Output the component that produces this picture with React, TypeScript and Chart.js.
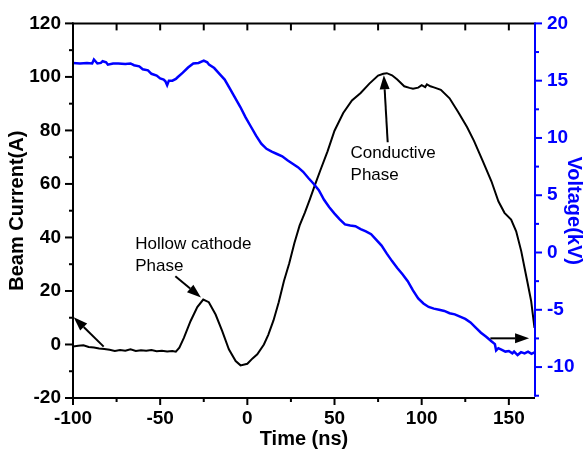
import React, { useEffect, useRef } from 'react';
import { Chart, registerables } from 'chart.js';

Chart.register(...registerables);

// Beam current (A) vs time (ns)
const TIME_I = [-100, -97, -94, -91, -88, -85, -82, -79, -76, -73, -70, -67, -64, -61, -58, -55, -52, -49, -46, -43, -41, -39, -36.4, -32.6, -28.7, -25.3, -22.1, -18.2, -14.4, -10.6, -6.7, -3.9, 0, 3, 5.7, 9.5, 12, 15, 18, 21, 24, 27, 30, 33, 36, 39, 42, 46, 50, 55, 60, 65, 70, 75, 78, 80, 83, 86, 90, 93, 95, 98, 100, 102, 103, 105, 107, 111, 116, 121, 126, 130, 135, 140, 144, 147.5, 151.3, 154.2, 157.1, 159, 160.9, 162.8, 164.7];
const CURRENT = [-0.8, -0.5, -0.3, -0.9, -1.1, -1.5, -1.7, -2.0, -2.4, -2.1, -2.3, -1.8, -2.4, -2.2, -2.3, -2.1, -2.5, -2.3, -2.6, -2.4, -2.7, -1.2, 2.5, 8.7, 14.0, 16.8, 15.8, 11.2, 5.0, -1.8, -6.2, -7.8, -7.2, -5.2, -3.7, 0, 3.6, 9.0, 15.8, 23.7, 30.3, 37.9, 44.5, 49.3, 54.5, 60.0, 65.3, 72.2, 79.9, 86.5, 91.2, 94.0, 97.5, 100.5, 101.2, 101.4, 100.6, 99.0, 96.5, 95.9, 95.6, 96.0, 96.9, 96.2, 97.2, 96.5, 96.1, 95.2, 92.0, 86.8, 81.3, 76.1, 68.6, 61.0, 53.5, 49.2, 46.7, 42.3, 34.9, 28.7, 22.5, 16.2, 6.2];

// Voltage (kV) vs time (ns)
const TIME_V = [-100, -96, -92, -89, -88, -86, -84, -83, -81, -80, -77, -74, -70, -67, -65, -62, -60, -57, -55, -52, -50, -48, -47, -46, -45, -43, -41, -40, -37, -34, -31, -28, -25, -23, -22, -19, -16, -13, -10, -7, -4, -1, 2, 5, 8, 11, 14, 17, 20, 23, 26, 29, 32, 35, 38, 41, 44, 47, 50, 53, 56, 59, 62, 65, 68, 71, 74, 77, 80, 83, 86, 89, 92, 95, 98, 101, 104, 107, 110, 113, 116, 119, 122, 125, 128, 131, 134, 137, 140, 142, 142.7, 144, 146, 148, 150, 152, 153, 155, 157, 159, 161, 163, 165];
const VOLTAGE = [16.55, 16.5, 16.55, 16.5, 16.85, 16.5, 16.55, 16.7, 16.6, 16.4, 16.5, 16.5, 16.45, 16.5, 16.35, 16.25, 16.0, 15.9, 15.6, 15.45, 15.2, 15.1, 14.95, 14.6, 15.0, 15.0, 15.15, 15.3, 15.7, 16.15, 16.5, 16.55, 16.75, 16.6, 16.4, 16.1, 15.6, 15.1, 14.3, 13.5, 12.7, 11.8, 11.0, 10.2, 9.5, 9.05, 8.8, 8.6, 8.4, 8.05, 7.75, 7.45, 7.05, 6.5, 6.0, 5.45, 4.6, 3.95, 3.4, 2.9, 2.45, 2.35, 2.3, 2.05, 1.85, 1.6, 1.1, 0.6, -0.1, -0.75, -1.35, -1.9, -2.5, -3.3, -4.0, -4.45, -4.75, -4.9, -5.0, -5.1, -5.3, -5.4, -5.6, -5.8, -6.1, -6.55, -7.0, -7.35, -7.75, -8.0, -8.55, -8.35, -8.5, -8.65, -8.6, -8.8, -8.65, -8.95, -8.7, -8.8, -8.65, -8.85, -8.7];

const X_TICKS = [-100, -50, 0, 50, 100, 150];
const X_MINOR = [-75, -25, 25, 75, 125];
const TOP_TICKS = [-75, -50, -25, 0, 25, 50, 75, 100, 125, 150];
const Y_TICKS = [-20, 0, 20, 40, 60, 80, 100, 120];
const Y_MINOR = [-10, 10, 30, 50, 70, 90, 110];
const Y2_TICKS = [-10, -5, 0, 5, 10, 15, 20];
const Y2_MINOR = [-12.5, -7.5, -2.5, 2.5, 7.5, 12.5, 17.5];

// Annotations in data coordinates (time, current)
const ARROWS = [
  { from: [-82.4, -0.8], to: [-99.6, 10.2] },
  { from: [-41.3, 25.5], to: [-26.6, 17.6] },
  { from: [80.5, 75.6], to: [78.3, 100.6] },
  { from: [139.4, 2.3], to: [161.6, 2.3] },
];
const LABELS = [
  { at: [-64.3, 37.5], lines: ['Hollow cathode', 'Phase'] },
  { at: [59.2, 71.5], lines: ['Conductive', 'Phase'] },
];

const FONT = 'Arial, "Liberation Sans", sans-serif';

const framePlugin = {
  id: 'frame',
  afterDatasetsDraw(chart: any) {
    const { ctx, chartArea: a, scales } = chart;
    const sx = scales.x, sy = scales.y, sy2 = scales.y1;
    const seg = (x1: number, y1: number, x2: number, y2: number) => {
      ctx.beginPath();
      ctx.moveTo(x1, y1);
      ctx.lineTo(x2, y2);
      ctx.stroke();
    };
    ctx.save();
    ctx.lineWidth = 2;
    ctx.lineCap = 'butt';
    ctx.strokeStyle = '#000';
    seg(a.left, a.top - 1, a.left, a.bottom + 1);
    seg(a.left - 1, a.bottom, a.right, a.bottom);
    seg(a.left - 1, a.top, a.right, a.top);
    Y_TICKS.forEach((v) => { const p = sy.getPixelForValue(v); seg(a.left, p, a.left - 8, p); });
    Y_MINOR.forEach((v) => { const p = sy.getPixelForValue(v); seg(a.left, p, a.left - 4, p); });
    X_TICKS.forEach((v) => { const p = sx.getPixelForValue(v); seg(p, a.bottom, p, a.bottom + 7); });
    X_MINOR.forEach((v) => { const p = sx.getPixelForValue(v); seg(p, a.bottom, p, a.bottom + 4); });
    TOP_TICKS.forEach((v) => { const p = sx.getPixelForValue(v); seg(p, a.top, p, a.top + 7); });
    ctx.strokeStyle = '#0000ff';
    const rTop = sy2.getPixelForValue(20);
    const rBot = sy2.getPixelForValue(-12.5);
    seg(a.right, rTop - 1, a.right, rBot + 1);
    Y2_TICKS.forEach((v) => { const p = sy2.getPixelForValue(v); seg(a.right, p, a.right + 7, p); });
    Y2_MINOR.forEach((v) => { const p = sy2.getPixelForValue(v); seg(a.right, p, a.right + 4, p); });

    ctx.strokeStyle = '#000';
    ctx.fillStyle = '#000';
    ctx.lineWidth = 2;
    ARROWS.forEach(({ from, to }) => {
      const x1 = sx.getPixelForValue(from[0]), y1 = sy.getPixelForValue(from[1]);
      const x2 = sx.getPixelForValue(to[0]), y2 = sy.getPixelForValue(to[1]);
      const ang = Math.atan2(y2 - y1, x2 - x1);
      const hl = 14, hw = 5;
      const bx = x2 - hl * Math.cos(ang), by = y2 - hl * Math.sin(ang);
      seg(x1, y1, bx, by);
      ctx.beginPath();
      ctx.moveTo(x2, y2);
      ctx.lineTo(bx + hw * Math.sin(ang), by - hw * Math.cos(ang));
      ctx.lineTo(bx - hw * Math.sin(ang), by + hw * Math.cos(ang));
      ctx.closePath();
      ctx.fill();
    });

    ctx.font = `17px ${FONT}`;
    ctx.textBaseline = 'middle';
    ctx.textAlign = 'left';
    LABELS.forEach(({ at, lines }) => {
      const x = sx.getPixelForValue(at[0]), y = sy.getPixelForValue(at[1]);
      lines.forEach((t, i) => ctx.fillText(t, x, y + i * 22));
    });
    ctx.restore();
  },
};

export default function App() {
  const ref = useRef<HTMLCanvasElement | null>(null);
  useEffect(() => {
    if (!ref.current) return;
    const tickFont = { family: FONT, size: 19, weight: 'bold' as const };
    const titleFont = { family: FONT, size: 20, weight: 'bold' as const, lineHeight: 1 };
    const chart = new Chart(ref.current, {
      type: 'line',
      data: {
        datasets: [
          {
            label: 'Voltage',
            data: TIME_V.map((t, i) => ({ x: t, y: VOLTAGE[i] })),
            borderColor: '#0000ff',
            borderWidth: 2.5,
            pointRadius: 0,
            yAxisID: 'y1',
            order: 0,
          },
          {
            label: 'Beam Current',
            data: TIME_I.map((t, i) => ({ x: t, y: CURRENT[i] })),
            borderColor: '#000000',
            borderWidth: 2,
            pointRadius: 0,
            yAxisID: 'y',
            order: 1,
          },
        ],
      },
      options: {
        animation: false,
        responsive: true,
        maintainAspectRatio: false,
        layout: { padding: { top: 22, left: 0, right: 0, bottom: 0 } },
        plugins: { legend: { display: false }, tooltip: { enabled: false } },
        scales: {
          x: {
            type: 'linear',
            position: 'bottom',
            min: -100,
            max: 165,
            afterBuildTicks: (s: any) => { s.ticks = X_TICKS.map((v) => ({ value: v })); },
            afterFit: (s: any) => { s.height = 55; },
            grid: { display: false, drawTicks: false },
            border: { display: false },
            ticks: { font: tickFont, color: '#000', padding: 9, maxRotation: 0, autoSkip: false },
            title: { display: true, text: 'Time (ns)', font: titleFont, color: '#000', padding: { top: 0, bottom: 4 } },
          },
          y: {
            type: 'linear',
            position: 'left',
            min: -20,
            max: 120,
            afterBuildTicks: (s: any) => { s.ticks = Y_TICKS.map((v) => ({ value: v })); },
            afterFit: (s: any) => { s.width = 73; },
            grid: { display: false, drawTicks: false },
            border: { display: false },
            ticks: { font: tickFont, color: '#000', padding: 12 },
            title: { display: true, text: 'Beam Current(A)', font: titleFont, color: '#000', padding: { top: 7, bottom: 0 } },
          },
          y1: {
            type: 'linear',
            position: 'right',
            min: -12.7,
            max: 20,
            afterBuildTicks: (s: any) => { s.ticks = Y2_TICKS.map((v) => ({ value: v })); },
            afterFit: (s: any) => { s.width = 49; },
            grid: { display: false, drawTicks: false },
            border: { display: false },
            ticks: { font: tickFont, color: '#0000ff', padding: 12 },
            title: { display: true, text: 'Voltage(kV)', font: titleFont, color: '#0000ff', padding: { top: 0, bottom: 0 } },
          },
        },
      },
      plugins: [framePlugin],
    });
    return () => chart.destroy();
  }, []);
  return (
    <div style={{ position: 'absolute', left: 0, top: 0, width: 584, height: 453, background: '#fff' }}>
      <canvas ref={ref} />
    </div>
  );
}
